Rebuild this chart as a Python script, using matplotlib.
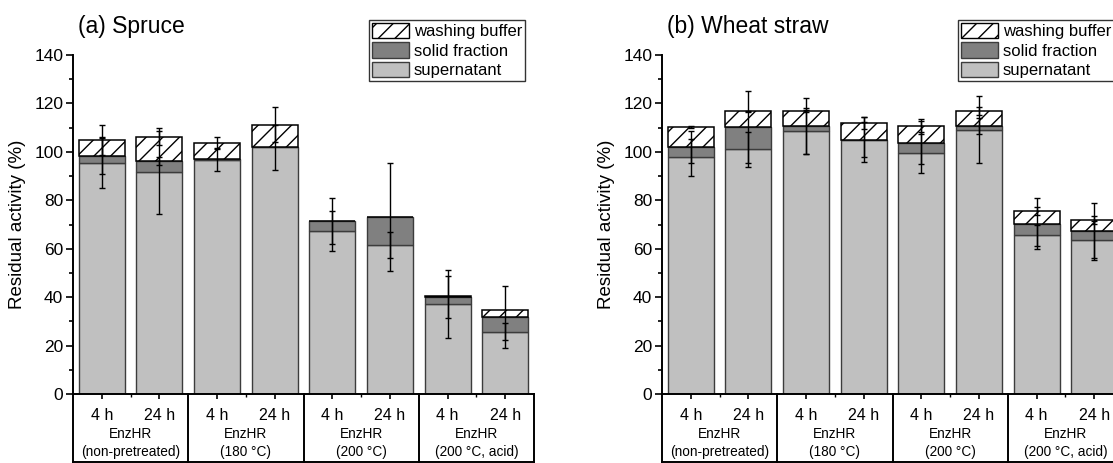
import numpy as np
import matplotlib
matplotlib.use("Agg")
import matplotlib.pyplot as plt
from matplotlib.ticker import FixedLocator, MultipleLocator
from matplotlib.transforms import blended_transform_factory
from matplotlib.patches import Patch

plt.rcParams["font.family"] = ["Liberation Sans", "DejaVu Sans"]
plt.rcParams["hatch.linewidth"] = 1.0

# Categories
times = ["4 h", "24 h"]
group_names = ["EnzHR", "EnzHR", "EnzHR", "EnzHR"]
group_conditions = ["(non-pretreated)", "(180 \u00b0C)", "(200 \u00b0C)", "(200 \u00b0C, acid)"]
series_labels = ["washing buffer", "solid fraction", "supernatant"]

# Spruce: residual activity (%) per fraction, 8 samples (4 groups x 2 times)
spruce_supernatant = [95.6, 91.5, 96.6, 101.8, 67.2, 61.4, 37.1, 25.8]
spruce_solid = [2.6, 4.8, 0.3, 0.0, 4.2, 11.8, 2.9, 5.9]
spruce_washing = [6.8, 9.9, 6.9, 9.4, 0.0, 0.0, 0.3, 3.0]
spruce_supernatant_err = [10.7, 17.3, 4.5, 9.3, 8.2, 5.3, 14.0, 3.6]
spruce_solid_err = [7.4, 1.6, 0.0, 0.0, 9.5, 22.4, 8.8, 12.9]
spruce_washing_err = [6.2, 3.5, 2.4, 7.3, 0.0, 0.0, 0.0, 0.0]

# Wheat straw
wheat_supernatant = [97.7, 101.0, 108.6, 105.1, 99.7, 109.2, 65.5, 63.4]
wheat_solid = [4.4, 9.3, 2.1, 0.0, 4.1, 1.5, 4.8, 4.1]
wheat_washing = [8.2, 6.4, 6.1, 6.8, 6.7, 6.1, 5.3, 4.4]
wheat_supernatant_err = [7.6, 7.2, 9.6, 7.1, 8.6, 14.0, 4.2, 8.0]
wheat_solid_err = [6.5, 15.0, 11.5, 9.1, 9.0, 3.2, 10.5, 11.3]
wheat_washing_err = [0.5, 0.3, 0.3, 2.5, 3.2, 1.7, 1.5, 1.7]

COL_SUP = "#c0c0c0"
COL_SOL = "#808080"
EDGE = "#3c3c3c"

W, H = 1113, 463
fig = plt.figure(figsize=(W / 100, H / 100), dpi=100)

ax_w = 461 / W
ax_b = (H - 394) / H
ax_h = 339 / H
table_depth = 67.5 / 339  # table height below axis, in axes units


def draw_panel(ax, title, sup, sol, wash, sup_e, sol_e, wash_e):
    x = np.arange(len(sup))
    sup = np.array(sup)
    sol = np.array(sol)
    wash = np.array(wash)
    ax.bar(x, sup, width=0.8, color=COL_SUP, edgecolor=EDGE, linewidth=1.0, zorder=2)
    ax.bar(x, sol, width=0.8, bottom=sup, color=COL_SOL, edgecolor=EDGE, linewidth=1.0, zorder=2)
    ax.bar(x, wash, width=0.8, bottom=sup + sol, color="white", edgecolor="black",
           hatch="//", linewidth=1.1, zorder=2)

    tops = [sup, sup + sol, sup + sol + wash]
    errs = [np.array(sup_e), np.array(sol_e), np.array(wash_e)]
    for top, err in zip(tops, errs):
        m = err > 0
        ax.errorbar(x[m], top[m], yerr=err[m], fmt="none", ecolor="black",
                    elinewidth=1.0, capsize=2.5, capthick=1.0, zorder=4)

    ax.set_xlim(-0.5, 7.5)
    ax.set_ylim(0, 140)
    ax.yaxis.set_major_locator(MultipleLocator(20))
    ax.yaxis.set_minor_locator(MultipleLocator(10))
    ax.set_xticks(x)
    ax.set_xticklabels([])
    ax.xaxis.set_minor_locator(FixedLocator([0.5, 2.5, 4.5, 6.5]))
    for s in ("top", "right"):
        ax.spines[s].set_visible(False)
    for s in ("left", "bottom"):
        ax.spines[s].set_linewidth(1.4)
    ax.tick_params(axis="y", which="major", direction="out", length=5, width=1.2,
                   labelsize=12.5, pad=2)
    ax.tick_params(axis="y", which="minor", direction="out", length=3, width=1.2)
    ax.tick_params(axis="x", which="major", direction="out", length=3.5, width=1.2)
    ax.tick_params(axis="x", which="minor", direction="out", length=2, width=1.0)
    ax.set_ylabel("Residual activity (%)", fontsize=13.5)
    ax.yaxis.set_label_coords(-0.103, 0.5)

    # category table below the axis
    tr = blended_transform_factory(ax.transData, ax.transAxes)
    for xb in (-0.5, 1.5, 3.5, 5.5, 7.5):
        ax.plot([xb, xb], [0, -table_depth], color="black", lw=1.4,
                transform=tr, clip_on=False)
    ax.plot([-0.5, 7.5], [-table_depth, -table_depth], color="black", lw=1.4,
            transform=tr, clip_on=False)
    for i in x:
        ax.text(i, -21 / 339, times[i % 2], ha="center", va="center",
                fontsize=11.5, transform=tr)
    for g in range(4):
        xc = 2 * g + 0.5
        ax.text(xc, -40 / 339, group_names[g], ha="center", va="center",
                fontsize=9.8, transform=tr)
        ax.text(xc, -58 / 339, group_conditions[g], ha="center", va="center",
                fontsize=9.8, transform=tr)

    handles = [Patch(facecolor="white", edgecolor="black", hatch="//", linewidth=1.0),
               Patch(facecolor=COL_SOL, edgecolor=EDGE, linewidth=1.0),
               Patch(facecolor=COL_SUP, edgecolor=EDGE, linewidth=1.0)]
    leg = ax.legend(handles, series_labels, loc="upper left",
                    bbox_to_anchor=(296 / 461, (394 - 20) / 339), borderaxespad=0,
                    fontsize=12, frameon=True, fancybox=False, edgecolor="black",
                    handlelength=2.2, handleheight=1.05, labelspacing=0.18,
                    handletextpad=0.3, borderpad=0.18)
    leg.get_frame().set_linewidth(1.0)

    ax.text(5 / 461, (394 - 26) / 339, title, transform=ax.transAxes,
            fontsize=16.5, ha="left", va="center")


ax1 = fig.add_axes([73 / W, ax_b, ax_w, ax_h])
draw_panel(ax1, "(a) Spruce", spruce_supernatant, spruce_solid, spruce_washing,
           spruce_supernatant_err, spruce_solid_err, spruce_washing_err)

ax2 = fig.add_axes([662 / W, ax_b, ax_w, ax_h])
draw_panel(ax2, "(b) Wheat straw", wheat_supernatant, wheat_solid, wheat_washing,
           wheat_supernatant_err, wheat_solid_err, wheat_washing_err)

fig.savefig("out.png", dpi=100)
